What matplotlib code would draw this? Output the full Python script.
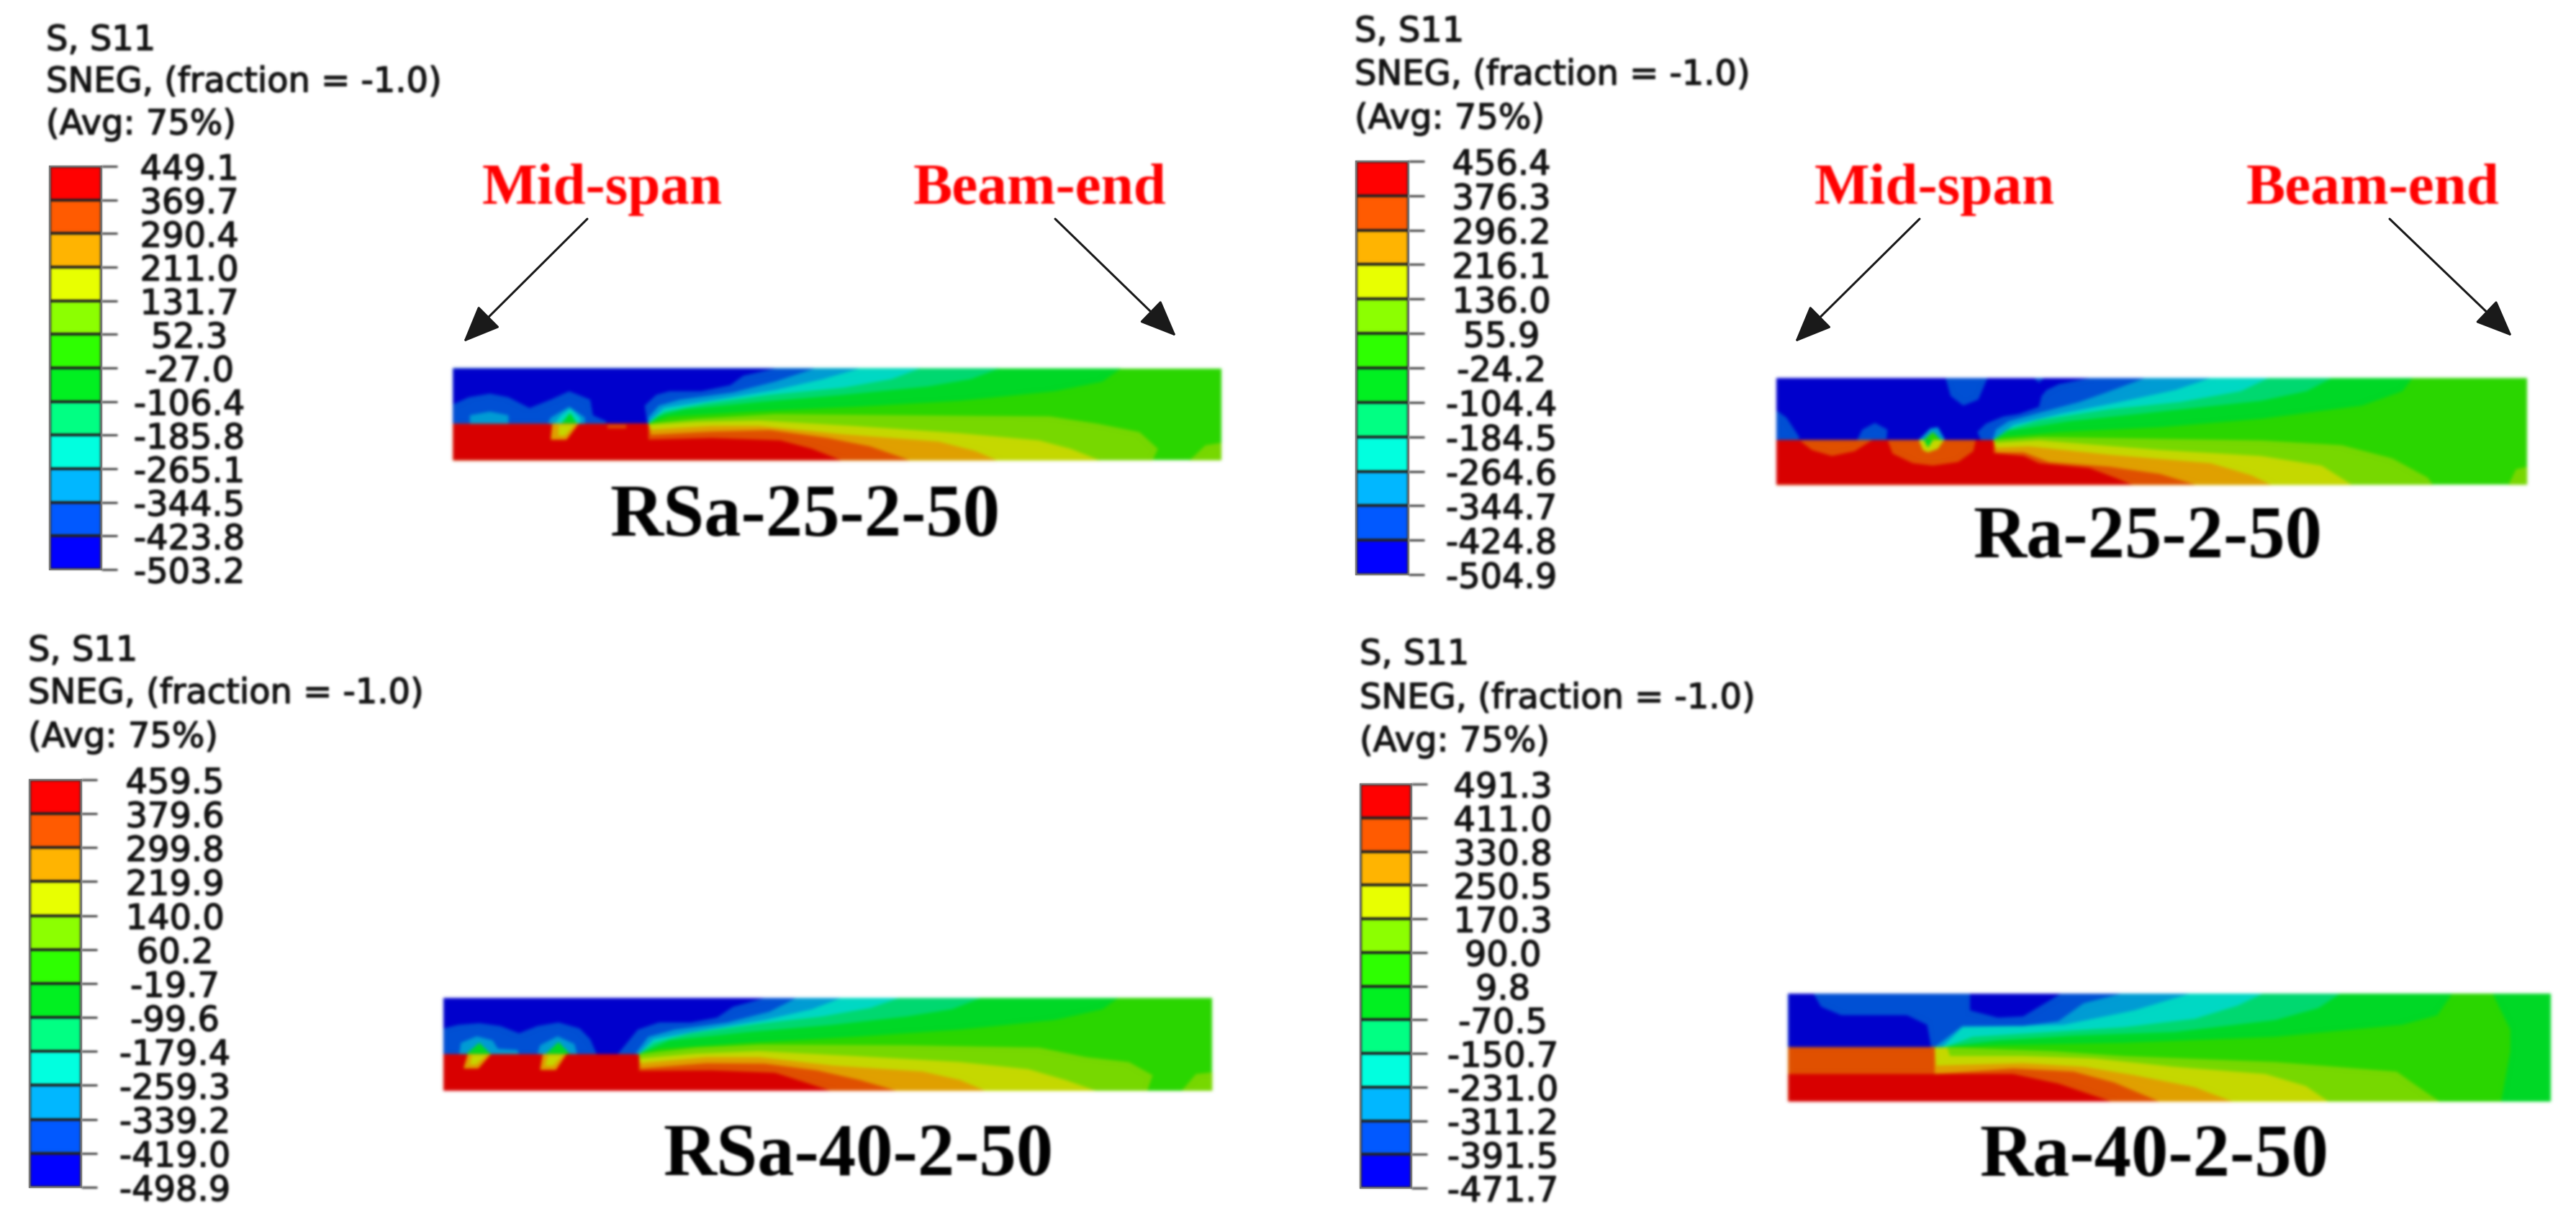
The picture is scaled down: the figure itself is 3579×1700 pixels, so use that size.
import numpy as np
import matplotlib
matplotlib.use('Agg')
import matplotlib.pyplot as plt
import matplotlib.patheffects as pe
from matplotlib.collections import PatchCollection
from matplotlib.colors import ListedColormap
from matplotlib.patches import Polygon

W, H = 3579, 1700

# Legend values, one list per panel, top of the bar first
values_rsa25 = [449.1, 369.7, 290.4, 211.0, 131.7, 52.3, -27.0, -106.4, -185.8, -265.1, -344.5, -423.8, -503.2]
values_ra25 = [456.4, 376.3, 296.2, 216.1, 136.0, 55.9, -24.2, -104.4, -184.5, -264.6, -344.7, -424.8, -504.9]
values_rsa40 = [459.5, 379.6, 299.8, 219.9, 140.0, 60.2, -19.7, -99.6, -179.4, -259.3, -339.2, -419.0, -498.9]
values_ra40 = [491.3, 411.0, 330.8, 250.5, 170.3, 90.0, 9.8, -70.5, -150.7, -231.0, -311.2, -391.5, -471.7]

legend_lines = ['S, S11', 'SNEG, (fraction = -1.0)', '(Avg: 75%)']
panel_names = ['RSa-25-2-50', 'Ra-25-2-50', 'RSa-40-2-50', 'Ra-40-2-50']

# Legend bar colours, lowest band first
bar_colors = ['#0000ff', '#0058ff', '#00b8ff', '#00ffe0', '#00ff84', '#00f020',
              '#2eff00', '#8cff00', '#e8ff00', '#ffb400', '#ff5a00', '#ff0000']

# The same bands as they look on the beam
band = {'blue': '#0000cc', 'royal': '#0050d4', 'sky': '#009cd4', 'cyan': '#00d8c4',
        'mint': '#00d870', 'green1': '#00d826', 'green2': '#2ad600', 'grass': '#77d800',
        'olive': '#c5d800', 'amber': '#e0a000', 'orange': '#e05000', 'red': '#d80000'}

# Contour outlines, in crop coordinates of each beam
p1_top = [
    ('green1', [(1305, 95), (1270, 150), (1180, 190), (1000, 230), (800, 255), (600, 275), (450, 295), (410, 325)]),
    ('mint', [(1075, 95), (1020, 140), (940, 170), (780, 205), (620, 235), (480, 265), (425, 295), (410, 325)]),
    ('cyan', [(925, 95), (870, 140), (780, 175), (640, 205), (520, 240), (440, 275), (410, 325)]),
    ('sky', [(810, 95), (740, 140), (650, 185), (540, 225), (440, 260), (410, 320)]),
    ('royal', [(725, 95), (650, 150), (570, 195), (470, 225), (430, 250), (410, 300)]),
    ('blue', [(650, 95), (590, 125), (565, 165), (510, 190), (450, 190), (425, 205), (403, 250), (408, 325)]),
]
p1_low = [
    ('grass', [(410, 325), (500, 305), (650, 285), (900, 290), (1170, 295), (1260, 325), (1340, 360), (1375, 430), (1365, 478)]),
    ('olive', [(410, 330), (500, 318), (620, 312), (800, 335), (1000, 365), (1150, 395), (1210, 430), (1265, 478)]),
    ('amber', [(415, 350), (530, 335), (620, 335), (780, 370), (960, 400), (1030, 440), (1070, 478)]),
    ('orange', [(415, 372), (530, 358), (640, 352), (750, 385), (830, 420), (905, 478)]),
    ('red', [(410, 392), (530, 385), (660, 395), (720, 430), (775, 478)]),
]
p1_extra = [
    ('grass', [(1435, 478), (1465, 415), (1495, 405), (1495, 478)]),
    ('royal', [(40, 325), (40, 245), (70, 215), (110, 200), (145, 215), (185, 260), (225, 225), (260, 190), (300, 225), (305, 290), (330, 315), (330, 325)]),
    ('sky', [(72, 325), (72, 290), (110, 275), (145, 290), (145, 325)]),
    ('sky', [(220, 325), (225, 300), (260, 255), (290, 300), (290, 325)]),
    ('cyan', [(232, 325), (245, 290), (262, 262), (280, 300), (282, 325)]),
    ('green1', [(245, 325), (262, 280), (275, 325)]),
    ('amber', [(228, 325), (278, 325), (255, 392), (225, 392)]),
    ('olive', [(240, 330), (270, 330), (252, 375), (240, 375)]),
    ('orange', [(332, 330), (368, 330), (368, 346), (332, 346)]),
]

p2_top = [
    ('green1', [(1300, 75), (1280, 130), (1200, 190), (1000, 245), (800, 280), (600, 300), (490, 320), (470, 333)]),
    ('mint', [(1140, 75), (1090, 130), (1000, 170), (800, 215), (620, 255), (500, 295), (470, 333)]),
    ('cyan', [(1015, 75), (960, 130), (840, 175), (700, 205), (560, 250), (490, 295), (470, 333)]),
    ('sky', [(900, 75), (830, 125), (720, 175), (600, 225), (510, 270), (470, 333)]),
    ('royal', [(770, 75), (700, 130), (640, 175), (560, 220), (500, 255), (475, 290), (468, 333)]),
    ('blue', [(660, 75), (600, 100), (575, 125), (565, 150), (560, 195), (520, 225), (490, 235), (455, 265), (438, 300), (445, 333)]),
]
p2_low = [
    ('grass', [(470, 333), (560, 320), (700, 325), (1000, 335), (1160, 355), (1260, 410), (1330, 490), (1340, 520)]),
    ('olive', [(475, 345), (560, 335), (800, 375), (1000, 400), (1120, 440), (1180, 520)]),
    ('amber', [(475, 365), (540, 360), (700, 395), (900, 430), (980, 480), (1020, 520)]),
    ('orange', [(475, 385), (530, 385), (580, 425), (700, 445), (800, 475), (870, 520)]),
    ('red', [(470, 388), (530, 400), (560, 430), (660, 450), (710, 490), (745, 520)]),
]
p2_extra = [
    ('grass', [(1490, 520), (1505, 455), (1527, 445), (1527, 520)]),
    ('royal', [(375, 75), (385, 150), (410, 190), (440, 165), (458, 75)]),
    ('royal', [(40, 210), (60, 240), (85, 320), (85, 333), (40, 333)]),
    ('royal', [(200, 333), (210, 290), (235, 262), (260, 290), (258, 333)]),
    ('royal', [(550, 75), (560, 95), (570, 75)]),
    ('sky', [(322, 333), (345, 285), (360, 280), (374, 333)]),
    ('green2', [(332, 333), (350, 300), (366, 333)]),
    ('orange', [(85, 333), (110, 375), (150, 400), (195, 380), (230, 333)]),
    ('orange', [(260, 333), (270, 390), (310, 430), (350, 440), (400, 425), (430, 380), (435, 333)]),
    ('olive', [(322, 333), (330, 375), (340, 385), (360, 370), (372, 333)]),
    ('green1', [(332, 333), (340, 365), (350, 333)]),
]

p3_top = [
    ('green1', [(1300, 78), (1270, 125), (1180, 170), (1000, 210), (800, 240), (600, 265), (430, 290), (392, 312)]),
    ('mint', [(1040, 78), (985, 125), (900, 155), (760, 190), (600, 220), (450, 255), (392, 312)]),
    ('cyan', [(885, 78), (830, 120), (740, 155), (620, 185), (490, 225), (420, 265), (392, 312)]),
    ('sky', [(775, 78), (720, 125), (630, 170), (520, 210), (420, 250), (392, 312)]),
    ('royal', [(690, 78), (640, 135), (560, 180), (460, 210), (410, 240), (385, 312)]),
    ('blue', [(630, 78), (570, 115), (540, 160), (490, 180), (430, 180), (390, 210), (352, 312)]),
]
p3_low = [
    ('grass', [(392, 312), (500, 285), (620, 272), (900, 275), (1150, 285), (1240, 325), (1320, 345), (1365, 400), (1355, 465)]),
    ('olive', [(392, 330), (500, 310), (620, 300), (800, 320), (1000, 345), (1130, 375), (1200, 420), (1258, 465)]),
    ('amber', [(395, 350), (520, 325), (620, 325), (760, 360), (930, 385), (1000, 420), (1048, 465)]),
    ('orange', [(395, 372), (520, 350), (630, 352), (730, 380), (810, 420), (880, 465)]),
    ('red', [(392, 382), (530, 380), (650, 390), (700, 425), (755, 465)]),
]
p3_extra = [
    ('grass', [(1420, 465), (1447, 395), (1478, 388), (1478, 465)]),
    ('royal', [(22, 312), (22, 205), (50, 190), (90, 183), (130, 195), (165, 225), (200, 195), (240, 180), (280, 205), (300, 250), (312, 312)]),
    ('sky', [(52, 312), (55, 265), (85, 238), (115, 255), (125, 290), (162, 295), (165, 312)]),
    ('sky', [(200, 312), (205, 275), (238, 238), (270, 270), (275, 312)]),
    ('green1', [(65, 312), (90, 265), (112, 312)]),
    ('green1', [(215, 312), (240, 262), (262, 312)]),
    ('amber', [(68, 312), (112, 312), (88, 372), (60, 372)]),
    ('olive', [(76, 316), (104, 316), (84, 355), (72, 355)]),
    ('amber', [(210, 312), (255, 312), (235, 378), (205, 378)]),
    ('olive', [(220, 316), (248, 316), (230, 360), (215, 360)]),
]

p4_under = [
    ('green2', [(330, 283), (600, 260), (1000, 220), (1250, 190), (1320, 150), (1350, 60), (1430, 60), (1465, 210), (1465, 300), (1447, 510), (330, 510)]),
]
p4_top = [
    ('green1', [(1350, 60), (1320, 150), (1250, 190), (1000, 240), (700, 265), (450, 275), (340, 283)]),
    ('mint', [(1128, 60), (1085, 120), (1000, 170), (800, 220), (600, 235), (450, 255), (350, 280)]),
    ('cyan', [(975, 60), (925, 110), (840, 165), (700, 200), (550, 220), (400, 240), (345, 283)]),
    ('sky', [(830, 60), (720, 130), (580, 190), (380, 200), (340, 283)]),
    ('royal', [(695, 60), (620, 100), (570, 175), (500, 195), (380, 195), (325, 283)]),
]
p4_low = [
    ('grass', [(345, 283), (560, 300), (700, 320), (1000, 345), (1240, 385), (1270, 430), (1325, 510)]),
    ('olive', [(325, 285), (350, 285), (355, 320), (500, 320), (640, 330), (800, 365), (980, 395), (1060, 445), (1105, 510)]),
    ('amber', [(328, 360), (500, 350), (620, 365), (720, 400), (840, 450), (915, 510)]),
    ('orange', [(325, 395), (480, 372), (600, 385), (680, 430), (770, 510)]),
]
p4_extra = [
    ('blue', [(35, 60), (85, 60), (100, 115), (140, 150), (270, 150), (310, 190), (318, 283), (35, 283)]),
    ('blue', [(395, 60), (575, 60), (500, 155), (450, 160), (395, 130)]),
    ('red', [(35, 395), (480, 395), (570, 435), (675, 510), (35, 510)]),
]

# crop origin, crop scale, and the beam box (left, right, top, bottom, crack height, crack tip)
beam_layout = [
    dict(crop=(600, 480, 1.363, 3), box=(40, 1495, 95, 478, 325, 410), base='green2', under=[], top=p1_top, low=p1_low, extra=p1_extra),
    dict(crop=(2440, 500, 1.4255, 3), box=(40, 1527, 75, 520, 333, 470), base='green2', under=[], top=p2_top, low=p2_low, extra=p2_extra),
    dict(crop=(600, 1360, 1.363, 3), box=(22, 1478, 78, 465, 312, 392), base='green2', under=[], top=p3_top, low=p3_low, extra=p3_extra),
    dict(crop=(2460, 1360, 1.4255, 3), box=(35, 1545, 60, 510, 283, 325), base='green1', under=p4_under, top=p4_top, low=p4_low, extra=p4_extra),
]

# pixel positions: bar box, label centre, text start and the three text rows
legend_layout = [
    dict(bar=(69, 141, 231, 791), center=263, x=64, rows=(56, 114, 173), values=values_rsa25),
    dict(bar=(1884, 1957, 224, 798), center=2086, x=1882, rows=(44, 104, 165), values=values_ra25),
    dict(bar=(41, 113, 1083, 1649), center=243, x=39, rows=(904, 963, 1024), values=values_rsa40),
    dict(bar=(1890, 1961, 1089, 1650), center=2088, x=1889, rows=(909, 970, 1030), values=values_ra40),
]

# Red labels and arrows over the two upper beams, in pixels
red_labels = [('Mid-span', 670, 283), ('Beam-end', 1269, 283), ('Mid-span', 2521, 283), ('Beam-end', 3121, 283)]
arrows = [((816, 304), (644, 475)), ((1466, 304), (1634, 467)), ((2667, 304), (2494, 475)), ((3320, 304), (3490, 467))]
title_pos = [(1118, 719), (2984, 749), (1192, 1607), (2993, 1608)]


def make_blur(sigma):
    # soft look of the scanned figure, used as agg_filter
    pad = int(sigma * 3) + 1
    offs = np.arange(-pad, pad + 1)
    weights = np.exp(-offs ** 2 / (2 * sigma ** 2))
    weights = weights / weights.sum()

    def blur(img, dpi):
        img = np.pad(img, ((pad, pad), (pad, pad), (0, 0)))
        alpha = img[:, :, 3:].copy()
        pre = np.concatenate([img[:, :, :3] * alpha, alpha], axis=2)
        for axis in (0, 1):
            pre = sum(w * np.roll(pre, o, axis=axis) for o, w in zip(offs, weights))
        a = np.clip(pre[:, :, 3:], 1e-6, 1)
        out = np.concatenate([np.clip(pre[:, :, :3] / a, 0, 1), pre[:, :, 3:]], axis=2)
        return out, -pad, -pad
    return blur


soft_beam = make_blur(2.2)
soft_text = make_blur(1.4)
heavy = [pe.withStroke(linewidth=1.0, foreground='#111111')]

fig = plt.figure(figsize=(W / 100, H / 100), dpi=100, facecolor='white')
ax = fig.add_axes([0, 0, 1, 1])
ax.set_xlim(0, W)
ax.set_ylim(H, 0)
ax.axis('off')


def draw_beam(layout):
    x0, y0, sx, sy = layout['crop']
    left, right, top, bottom, crack, tip = layout['box']
    shapes = []
    shapes.append((layout['base'], [(left, top), (right, top), (right, bottom), (left, bottom)]))
    shapes.extend(layout['under'])
    for name, pts in layout['top']:
        shapes.append((name, pts + [(tip, crack), (left, crack), (left, top)]))
    for name, pts in layout['low']:
        shapes.append((name, pts + [(left, bottom), (left, crack), (tip, crack)]))
    shapes.extend(layout['extra'])

    polys = []
    colors = []
    for name, pts in shapes:
        polys.append(Polygon([(x0 + px / sx, y0 + py / sy) for px, py in pts], closed=True))
        colors.append(band[name])
    coll = PatchCollection(polys, facecolors=colors, edgecolors='none', linewidths=0, zorder=2)
    coll.set_agg_filter(soft_beam)
    ax.add_collection(coll)


def draw_legend(layout):
    x1, x2, y1, y2 = layout['bar']
    values = layout['values']
    cax = fig.add_axes([x1 / W, 1 - y2 / H, (x2 - x1) / W, (y2 - y1) / H])
    levels = np.array(values[::-1])
    mesh = cax.pcolormesh([0, 1], levels, np.arange(12)[:, None], cmap=ListedColormap(bar_colors),
                          edgecolors='#222222', linewidth=1.6)
    mesh.set_agg_filter(soft_text)
    cax.set_xticks([])
    cax.yaxis.tick_right()
    cax.set_yticks(levels)
    cax.set_yticklabels(['%.1f' % v for v in levels])
    tick_px = 22
    pad_px = layout['center'] - x2 - tick_px
    cax.tick_params(axis='y', length=tick_px * 0.72, width=2, color='#333333', pad=pad_px * 0.72,
                    labelsize=34.5, labelcolor='#111111')
    for lab in cax.get_yticklabels():
        lab.set_ha('center')
        lab.set_path_effects(heavy)
        lab.set_agg_filter(soft_text)
    for line in cax.yaxis.get_ticklines():
        line.set_agg_filter(soft_text)
    for s in cax.spines.values():
        s.set_color('#777777')
        s.set_linewidth(1.5)
    for text, row in zip(legend_lines, layout['rows']):
        t = ax.text(layout['x'], row, text, fontsize=34.5, color='#111111', ha='left', va='center',
                    path_effects=heavy)
        t.set_agg_filter(soft_text)


for layout in beam_layout:
    draw_beam(layout)
for layout in legend_layout:
    draw_legend(layout)

for text, x, y in red_labels:
    t = ax.text(x, y, text, fontsize=58.5, color='#ff0000', family='Liberation Serif', weight='bold',
                ha='left', va='baseline')
    t.set_agg_filter(soft_text)

for start, end in arrows:
    ann = ax.annotate('', xy=end, xytext=start,
                      arrowprops=dict(arrowstyle='-|>,head_length=1.0,head_width=0.42', mutation_scale=32,
                                      color='#1a1a1a', lw=2.2, shrinkA=0, shrinkB=0))
    ann.arrow_patch.set_agg_filter(soft_text)

for name, (x, y) in zip(panel_names, title_pos):
    t = ax.text(x, y, name, fontsize=74, color='black', family='Liberation Serif', weight='bold',
                ha='center', va='center')
    t.set_agg_filter(soft_text)

fig.savefig('out.png', dpi=100, facecolor='white')
